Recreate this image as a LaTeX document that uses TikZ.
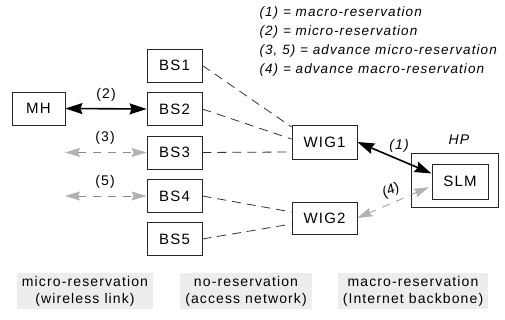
\documentclass[tikz,border=0pt]{standalone}
\usepackage{fontspec}
\setmainfont[LetterSpace=8]{Liberation Sans}
\newfontfamily\tightsans{Liberation Sans}
\usetikzlibrary{arrows.meta}
\begin{document}
\begin{tikzpicture}[x=1pt,y=-1pt,
  box/.style={draw=black!85,line width=0.8pt,inner sep=0pt,font=\fontsize{15}{17}\selectfont},
  link/.style={draw=black!80,line width=0.8pt,dash pattern=on 9pt off 6pt},
  strong/.style={line width=1.6pt,{Stealth[length=17pt,width=11pt,inset=2pt]}-{Stealth[length=17pt,width=11pt,inset=2pt]}},
  advance/.style={draw=black!45,line width=0.7pt,dash pattern=on 8pt off 7pt,
    {Stealth[length=15pt,width=9pt,inset=2pt,fill=black!30,color=black!30]}-{Stealth[length=15pt,width=9pt,inset=2pt,fill=black!30,color=black!30]}},
  lbl/.style={font=\fontsize{14}{16}\selectfont},
  ilbl/.style={font=\fontsize{14}{16}\selectfont\itshape},
  legend/.style={anchor=west,font=\fontsize{13.5}{16}\selectfont\itshape},
  zone/.style={fill=black!7,inner xsep=5pt,inner ysep=3pt,align=center,font=\fontsize{14}{17}\selectfont}]
\useasboundingbox (0,0) rectangle (505,320);

% legend
\node[legend] (l1) at (256,13) {(1) = macro-reservation};
\node[legend] (l2) at (256,32) {(2) = micro-reservation};
\node[legend] (l3) at (256,51) {(3, 5) = advance micro-reservation};
\node[legend] (l4) at (256,70) {(4) = advance macro-reservation};

% hosts and base stations
\node[box,minimum width=53pt,minimum height=33pt] (MH) at (38.5,108.5) {MH};
\foreach \n/\y in {1/65.5,2/109,3/152.5,4/196,5/239}
  \node[box,minimum width=55pt,minimum height=33pt] (BS\n) at (174.5,\y) {BS\n};

% gateways
\node[box,minimum width=65pt,minimum height=34pt] (WIG1) at (324.5,142) {WIG1};
\node[box,minimum width=65pt,minimum height=32pt] (WIG2) at (324.5,218) {WIG2};

% home provider with its SLM
\node[draw=black!85,line width=0.8pt,minimum width=87pt,minimum height=54pt] (HP) at (454.5,180) {};
\node[ilbl] (HPl) at (459,140) {HP};
\node[box,minimum width=56pt,minimum height=35pt] (SLM) at (460,181.5) {SLM};

% access network links
\draw[link] (BS1.east) -- ([yshift=15pt]WIG1.west);
\draw[link] (BS2.east) -- ([yshift=3pt]WIG1.west);
\draw[link] (BS3.east) -- ([yshift=-10pt]WIG1.west);
\draw[link] (BS4.east) -- ([yshift=6pt]WIG2.west);
\draw[link] (BS5.east) -- ([yshift=-6pt]WIG2.west);

% reservations
\draw[strong] (MH.east) -- (BS2.west);
\node[lbl] (r2) at (106,95) {(2)};
\coordinate (f3) at (65,152.5);
\coordinate (f5) at (65,196);
\draw[advance] (f3) -- (BS3.west);
\node[lbl] (r3) at (105,138) {(3)};
\draw[advance] (f5) -- (BS4.west);
\node[lbl] (r5) at (105,182) {(5)};

\draw[strong] (WIG1.east) -- ([yshift=8pt]SLM.west);
\node[ilbl] (r1) at (399,146) {(1)};
\draw[advance,shorten <=3pt] ([yshift=-4.5pt]SLM.west) -- (WIG2.east);
\node[font=\tightsans\fontsize{14}{16}\selectfont\itshape,rotate=24,inner sep=0pt] (r4) at (391,191) {(4)};

% reservation zones
\node[zone] (z1) at (85,291) {micro-reservation\\(wireless link)};
\node[zone] (z2) at (246,291) {no-reservation\\(access network)};
\node[zone] (z3) at (413,291) {macro-reservation\\(Internet backbone)};
\end{tikzpicture}
\end{document}
